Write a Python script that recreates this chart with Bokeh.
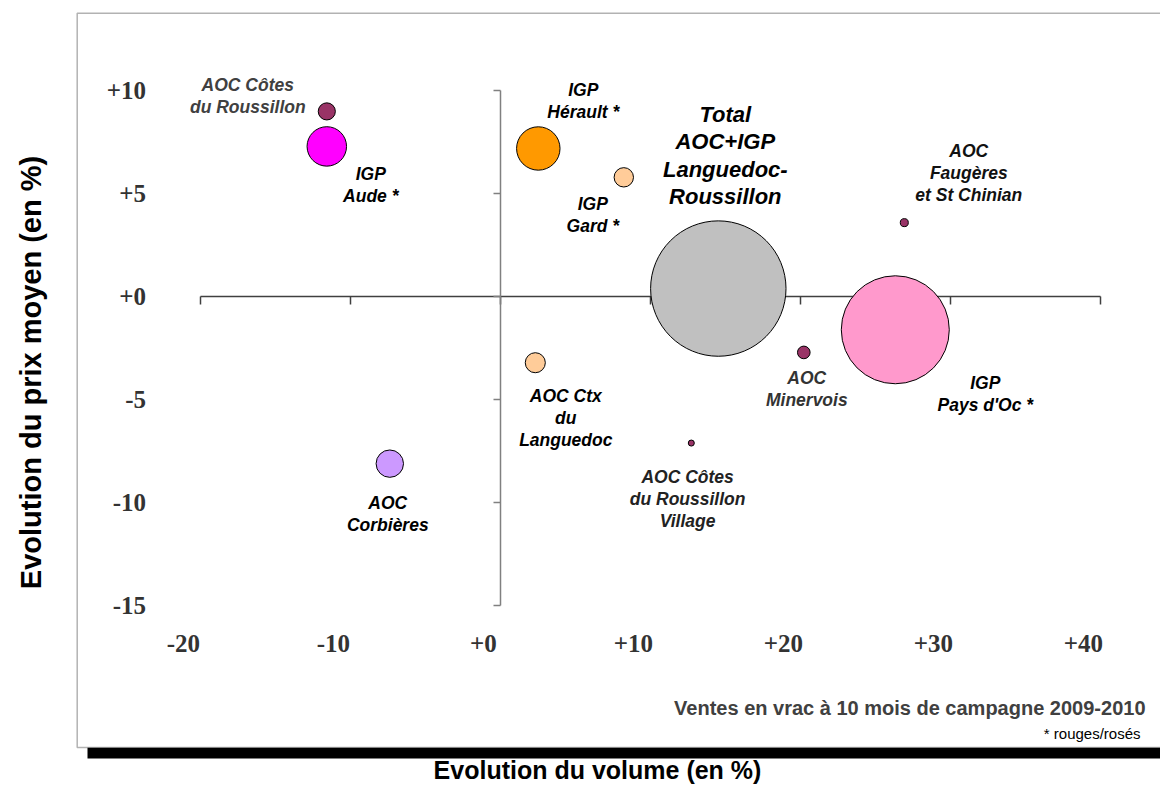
import math
from bokeh.plotting import figure
from bokeh.models import ColumnDataSource, Range1d, LinearAxis, FixedTicker, BoxAnnotation, Label
from bokeh.core.properties import value
from bokeh.embed import file_html
from bokeh.resources import INLINE

# ---------------- data ----------------
appellations = ["AOC Côtes du Roussillon", "IGP Aude *", "IGP Hérault *", "IGP Gard *",
                "Total AOC+IGP Languedoc-Roussillon", "AOC Faugères et St Chinian",
                "IGP Pays d'Oc *", "AOC Minervois", "AOC Ctx du Languedoc",
                "AOC Côtes du Roussillon Village", "AOC Corbières"]
label_texts = ["AOC Côtes\ndu Roussillon", "IGP\nAude *", "IGP\nHérault *", "IGP\nGard *",
               "Total\nAOC+IGP\nLanguedoc-\nRoussillon", "AOC\nFaugères\net St Chinian",
               "IGP\nPays d'Oc *", "AOC\nMinervois", "AOC Ctx\ndu\nLanguedoc",
               "AOC Côtes\ndu Roussillon\nVillage", "AOC\nCorbières"]
evol_volume = [-11.6, -11.6, 2.5, 8.2, 14.5, 26.9, 26.3, 20.2, 2.3, 12.7, -7.4]
evol_prix = [9.0, 7.3, 7.2, 5.8, 0.4, 3.6, -1.6, -2.7, -3.2, -7.1, -8.1]
volume_relatif = [1.6, 8.5, 10.3, 2.05, 100.0, 0.35, 63.6, 0.87, 2.2, 0.2, 4.1]

x_ticks = [-20, -10, 0, 10, 20, 30, 40]
x_tick_labels = ["-20", "-10", "+0", "+10", "+20", "+30", "+40"]
y_ticks = [-15, -10, -5, 0, 5, 10]
y_tick_labels = ["-15", "-10", "-5", "+0", "+5", "+10"]

# ---------------- styles / layout ----------------
bubble_colors = ["#993366", "#FF00FF", "#FF9900", "#FFCC99", "#C0C0C0", "#993366",
                 "#FF99CC", "#993366", "#FFCC99", "#993366", "#CC99FF"]
label_dx = [-79, 44, 45, -31, 7, 64.5, 90, 3, 30.5, -3.7, -2]
label_dy = [-15.7, 39, -47, 38, -133, -50, 64, 36.5, 55, 55.8, 50]
label_colors = ["#404040", "#000000", "#000000", "#000000", "#000000", "#111111",
                "#000000", "#333333", "#000000", "#222222", "#000000"]
label_sizes = ["17.5px"] * 4 + ["22px"] + ["17.5px"] * 6
MAX_RADIUS_PX = 67.7  # radius of the largest bubble

W, H = 1160, 784
ORIGIN = 0
X_ZERO_PX, PX_PER_X = 500.3, 15.0
Y_ZERO_PX, PX_PER_Y = 296.3, 20.6


def xd(px):
    return (px - X_ZERO_PX) / PX_PER_X


def yd(py):
    return (Y_ZERO_PX - py) / PX_PER_Y


sizes = [2 * MAX_RADIUS_PX * math.sqrt(v / max(volume_relatif)) for v in volume_relatif]

src = ColumnDataSource(dict(
    x=evol_volume, y=evol_prix, size=sizes, color=bubble_colors, name=appellations,
    label=label_texts, dx=label_dx, dy=label_dy, lcolor=label_colors, lsize=label_sizes,
))

p = figure(width=W, height=H,
           x_range=Range1d(xd(ORIGIN), xd(ORIGIN + W)),
           y_range=Range1d(yd(ORIGIN + H), yd(ORIGIN)),
           x_axis_location=None, y_axis_location=None,
           toolbar_location=None, output_backend="svg", min_border=0,
           outline_line_color=None, background_fill_color="white", border_fill_color="white")
p.grid.visible = False

# frame with shadow
shadow = BoxAnnotation(left=xd(87), right=xd(1250), top=yd(747), bottom=yd(758),
                       fill_color="black", fill_alpha=1.0, line_color=None, level="image")
box = BoxAnnotation(left=xd(76.7), right=xd(1250), top=yd(12.7), bottom=yd(747),
                    fill_color="white", fill_alpha=1.0, line_color="black", line_width=1.5,
                    level="image")
p.add_layout(shadow)
p.add_layout(box)

# crossing axes
ax_h = LinearAxis(fixed_location=0, bounds=(x_ticks[0], x_ticks[-1]),
                  ticker=FixedTicker(ticks=x_ticks, minor_ticks=[]),
                  major_tick_in=0, major_tick_out=8, minor_tick_in=0, minor_tick_out=0,
                  axis_line_color="#404040", axis_line_width=1.5,
                  major_tick_line_color="#404040", major_tick_line_width=1.5,
                  minor_tick_line_color=None, major_label_text_color=None, level="underlay")
p.add_layout(ax_h, "below")
ax_v = LinearAxis(fixed_location=0, bounds=(y_ticks[0], y_ticks[-1]),
                  ticker=FixedTicker(ticks=y_ticks, minor_ticks=[]),
                  major_tick_in=0, major_tick_out=7, minor_tick_in=0, minor_tick_out=0,
                  axis_line_color="#808080", axis_line_width=1.5,
                  major_tick_line_color="#808080", major_tick_line_width=1.5,
                  minor_tick_line_color=None, major_label_text_color=None, level="underlay")
p.add_layout(ax_v, "left")

# tick label axes
shift = 17.5 / PX_PER_X
p.extra_x_ranges = {"xlab": Range1d(xd(ORIGIN) + shift, xd(ORIGIN + W) + shift)}
lab_style = dict(axis_line_color=None, major_tick_line_color=None, minor_tick_line_color=None,
                 major_tick_in=0, major_tick_out=0, minor_tick_in=0, minor_tick_out=0,
                 major_label_standoff=0, major_label_text_font="Liberation Serif",
                 major_label_text_font_style="bold", major_label_text_font_size="25px",
                 major_label_text_color="#333333")
ax_xl = LinearAxis(x_range_name="xlab", fixed_location=yd(634),
                   ticker=FixedTicker(ticks=x_ticks, minor_ticks=[]),
                   major_label_overrides=dict(zip(x_ticks, x_tick_labels)), **lab_style)
p.add_layout(ax_xl, "below")
ax_yl = LinearAxis(fixed_location=xd(145.5),
                   ticker=FixedTicker(ticks=y_ticks, minor_ticks=[]),
                   major_label_overrides=dict(zip(y_ticks, y_tick_labels)), **lab_style)
p.add_layout(ax_yl, "left")

# bubbles
p.scatter(x="x", y="y", size="size", source=src, fill_color="color",
          line_color="black", line_width=1)

# bubble labels
p.text(x="x", y="y", text="label", source=src, x_offset="dx", y_offset="dy",
       text_align="center", text_baseline="middle", text_color="lcolor",
       text_font=value("Liberation Sans"), text_font_style="bold italic",
       text_font_size="lsize", text_line_height=1.1)

# titles and notes
p.add_layout(Label(x=xd(30), y=yd(372), text="Evolution du prix moyen (en %)",
                   angle=math.pi / 2, text_align="center", text_baseline="middle",
                   text_font="Liberation Sans", text_font_style="bold",
                   text_font_size="29px", text_color="black"))
p.add_layout(Label(x=xd(597), y=yd(769), text="Evolution du volume (en %)",
                   text_align="center", text_baseline="middle",
                   text_font="Liberation Sans", text_font_style="bold",
                   text_font_size="25px", text_color="black"))
p.add_layout(Label(x=xd(1145), y=yd(707), text="Ventes en vrac à 10 mois de campagne 2009-2010",
                   text_align="right", text_baseline="middle",
                   text_font="Liberation Sans", text_font_style="bold",
                   text_font_size="20px", text_color="#404040"))
p.add_layout(Label(x=xd(1140), y=yd(733), text="* rouges/rosés",
                   text_align="right", text_baseline="middle",
                   text_font="Liberation Sans", text_font_style="normal",
                   text_font_size="15px", text_color="black"))

open("out.html", "w").write(file_html(p, INLINE))
